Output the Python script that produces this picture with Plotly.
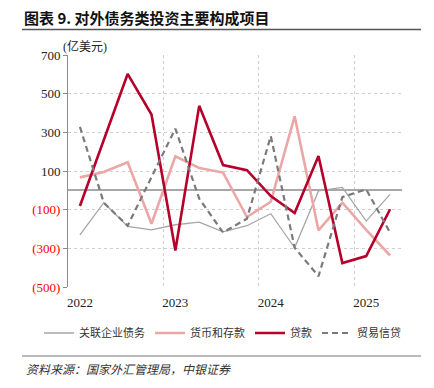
import plotly.graph_objects as go

quarters = ["2022Q1","2022Q2","2022Q3","2022Q4","2023Q1","2023Q2","2023Q3","2023Q4",
            "2024Q1","2024Q2","2024Q3","2024Q4","2025Q1","2025Q2"]
year_labels = ["2022", "2023", "2024", "2025"]

affiliated_debt = [-230, -64, -187, -204, -178, -164, -215, -183, -121, -297, -3, 15, -159, -21]
currency_deposits = [67, 95, 145, -173, 176, 116, 92, -138, -59, 383, -207, -64, -205, -337]
loans = [-81, 263, 602, 392, -311, 437, 131, 104, -30, -117, 178, -376, -340, -98]
trade_credit = [328, -64, -183, 72, 319, -43, -218, -147, 281, -297, -444, -35, 5, -219]

ytick_vals = [-500, -300, -100, 100, 300, 500, 700]

W, H = 434, 388
L, R, T, B = 68, 402, 55, 287

def px(x):
    return (x - L) / (R - L)

def py(y):
    return (B - y) / (B - T)

xs = list(range(len(quarters)))

fig = go.Figure()
fig.add_trace(go.Scatter(x=xs, y=affiliated_debt, mode="lines", name="关联企业债务",
                         line=dict(color="#A6A6A6", width=1.3)))
fig.add_trace(go.Scatter(x=xs, y=currency_deposits, mode="lines", name="货币和存款",
                         line=dict(color="#EBA7A7", width=2.6)))
fig.add_trace(go.Scatter(x=xs, y=loans, mode="lines", name="贷款",
                         line=dict(color="#B5002B", width=2.6)))
fig.add_trace(go.Scatter(x=xs, y=trade_credit, mode="lines", name="贸易信贷",
                         line=dict(color="#7A7A7A", width=2.2, dash="6px,4px")))

def fmt(v):
    if v < 0:
        return "<span style='color:#FF0000'>(%d)</span>" % (-v)
    return str(v)

year_pos = [quarters.index(y + "Q1") for y in year_labels]

fig.update_layout(
    width=W, height=H,
    margin=dict(l=L, r=W - R, t=T, b=H - B),
    paper_bgcolor="white", plot_bgcolor="white",
    font=dict(family="Liberation Serif", size=13, color="#222222"),
    showlegend=True,
    legend=dict(orientation="h", x=px(39), y=py(333), xanchor="left", yanchor="middle",
                font=dict(family="Noto Sans CJK SC", size=11, color="#333333"),
                itemwidth=30, tracegroupgap=0, bgcolor="rgba(0,0,0,0)"),
    xaxis=dict(range=[-0.5, len(quarters) - 0.5], tickmode="array",
               tickvals=year_pos, ticktext=year_labels, showgrid=False,
               zeroline=False, showline=False, ticks="", ticklabelstandoff=6,
               tickfont=dict(family="Liberation Serif", size=13, color="#222222"),
               minor=dict(tickmode="array", tickvals=[p - 0.5 for p in year_pos],
                          showgrid=True, gridcolor="#CFCFCF", griddash="dot", gridwidth=1)),
    yaxis=dict(range=[-500, 700], tickmode="array", tickvals=ytick_vals,
               ticktext=[fmt(v) for v in ytick_vals],
               showgrid=True, gridcolor="#CFCFCF", griddash="dot", gridwidth=1,
               zeroline=True, zerolinecolor="#A8A8A8", zerolinewidth=1.8,
               showline=True, linecolor="#8C8C8C", linewidth=1,
               ticks="outside", ticklen=4, tickcolor="#8C8C8C",
               tickfont=dict(family="Liberation Serif", size=13, color="#222222")),
)

# title
fig.add_annotation(text="<b>图表 9. 对外债务类投资主要构成项目</b>", xref="paper", yref="paper",
                   x=px(22), y=py(18), xanchor="left", yanchor="middle", showarrow=False,
                   font=dict(family="Noto Sans CJK SC", size=15, color="#111111"))
fig.add_shape(type="line", xref="paper", yref="paper", x0=px(22), x1=px(421),
              y0=py(29.5), y1=py(29.5), line=dict(color="#555555", width=1.5))
# unit
fig.add_annotation(text="(亿美元)", xref="paper", yref="paper", x=px(61), y=py(46),
                   xanchor="left", yanchor="middle", showarrow=False,
                   font=dict(family="Liberation Serif, Noto Sans CJK SC", size=12, color="#222222"))
# bottom rule and source
fig.add_shape(type="line", xref="paper", yref="paper", x0=px(22), x1=px(421),
              y0=py(356), y1=py(356), line=dict(color="#777777", width=1))
fig.add_annotation(text="<i>资料来源：国家外汇管理局，中银证券</i>", xref="paper", yref="paper",
                   x=px(24), y=py(368), xanchor="left", yanchor="middle", showarrow=False,
                   font=dict(family="Noto Sans CJK SC", size=12, color="#333333"))

fig.write_html("out.html", config={"displayModeBar": False},
               post_script="document.body.style.margin='0';")
